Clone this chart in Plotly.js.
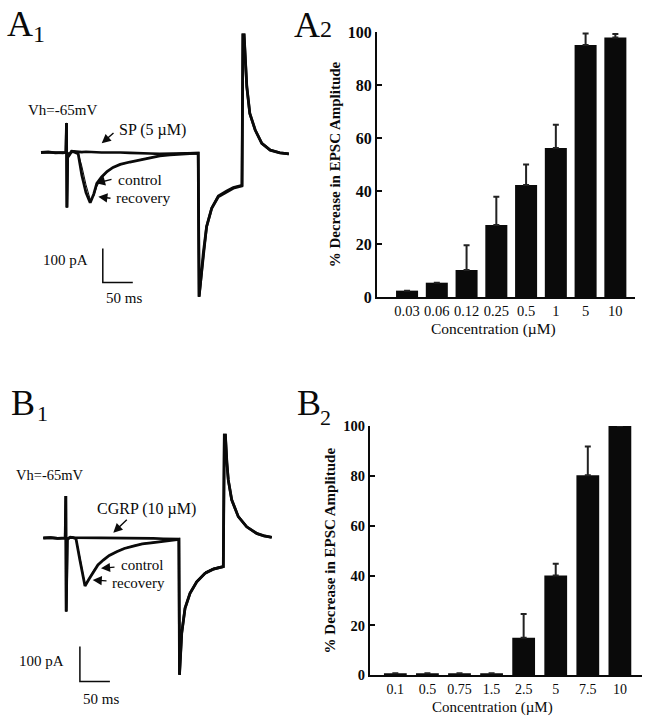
<!DOCTYPE html>
<html><head><meta charset="utf-8">
<script src="https://cdn.plot.ly/plotly-3.0.1.min.js"></script>
<style>html,body{margin:0;padding:0;background:#fff}#chart{width:646px;height:720px}</style>
</head><body><div id="chart"></div>
<script>
// ---------- A1: EPSC traces (time in ms, current in pA) ----------
const a1Time     = [0, 12, 24, 36, 41.5, 42.5, 43.2, 44.5, 47, 51, 56, 62, 68, 75, 82, 88, 93, 101, 110, 120, 132, 148, 165, 182, 198, 215, 232, 248, 262, 263.5, 266, 270.5, 276, 284.5, 295.5, 309.5, 320.5, 335, 336.5, 338.5, 340.5, 343, 348, 357, 368, 382, 398, 413];
const a1Recovery = [0, 2, -1, 1, 0, 87, -162, -2, -8, 3, 1, -4, -66, -118, -148, -122, -91, -72, -56, -44, -35, -28, -22, -15, -10, -7, -4, -3, -2, -424, -380, -296, -218, -164, -130, -115, -105, -98, 346, 346, 287, 194, 115, 66, 27, 7, -1, -4];
const a1Control  = [0, 2, -1, 1, 0, 87, -162, -2, -8, 3, 1, -2, -40, -95, -138, -128, -100, -76, -58, -45, -36, -28, -21, -15, -10, -6, -4, -3, -2, -424, -380, -296, -218, -164, -130, -115, -105, -98, 346, 346, 287, 194, 115, 66, 27, 7, -1, -4];
const a1SP       = [0, 1, 0, -1, 0, 87, -162, -2, -6, 4, 3, 2, 1, 2, 1, 0, 1, 0, 0, 1, 0, -1, -3, -3, -4, -3, -3, -2, -2, -424, -380, -296, -218, -164, -128, -113, -103, -96, 346, 346, 287, 194, 115, 66, 27, 7, -1, -4];
const a1ScaleT   = [103, 103, 153];
const a1ScaleI   = [-282, -382, -382];

// ---------- A2: SP dose response ----------
const a2Conc = ['0.03', '0.06', '0.12', '0.25', '0.5', '1', '5', '10'];
const a2Mean = [2.4, 5.4, 10.2, 27.2, 42.3, 56.2, 95.1, 97.9];
const a2Err  = [0, 0, 9.3, 10.6, 7.7, 8.8, 4.3, 1.3];

// ---------- B1: EPSC traces ----------
const b1Time     = [0, 12, 24, 36.5, 37.5, 38.2, 40, 45, 50, 54.5, 61, 65.5, 69.5, 76, 83.3, 91, 100, 110, 122.3, 135, 150, 165, 183.3, 200, 216.7, 226, 227, 229, 230.7, 236.2, 244.5, 255.7, 269.5, 283.3, 300, 301.7, 303.5, 306, 308.3, 314, 325, 339, 355.7, 368, 380.7];
const b1Recovery = [0, 1, -1, 0, 120, -210, -3, 2, 1, -2, -63, -105, -137, -118, -96, -77, -63, -50, -39, -30, -23, -17, -13, -9, -6, -4, -391, -325, -272, -201, -158, -125, -101, -89, -82, 294, 294, 215, 166, 109, 61, 32, 13, 6, 2];
const b1Control  = [0, 1, -1, 0, 120, -210, -3, 2, 1, -1, -55, -100, -133, -117, -94, -76, -62, -49, -38, -29, -22, -16, -12, -8, -5, -4, -391, -325, -272, -201, -158, -121, -97, -86, -79, 294, 294, 215, 166, 109, 61, 32, 13, 6, 2];
const b1CGRP     = [0, 1, -1, 0, 120, -210, -3, 2, 1, 1, 1, 0, 1, 0, 1, 0, 0, 1, 0, -1, 0, -1, -1, -2, -2, -3, -391, -325, -272, -201, -158, -125, -101, -89, -82, 294, 294, 215, 166, 109, 61, 32, 13, 6, 2];
const b1ScaleT   = [61, 61, 111];
const b1ScaleI   = [-310, -410, -410];

// ---------- B2: CGRP dose response ----------
const b2Conc = ['0.1', '0.5', '0.75', '1.5', '2.5', '5', '7.5', '10'];
const b2Mean = [0.8, 0.8, 0.8, 0.8, 15.1, 40, 80.2, 100];
const b2Err  = [0, 0, 0, 0, 9.5, 4.7, 11.6, 0];

// ---------- drawing ----------
const W = 646, H = 720;
const F = 'Liberation Serif, Times New Roman, serif';
const INK = '#0a0a0a';
const dx = p => p / W;
const dy = p => 1 - p / H;

function line(x, y, xa, ya, w) {
  return {type: 'scatter', mode: 'lines', x: x, y: y, xaxis: xa, yaxis: ya,
          line: {color: INK, width: w}, hoverinfo: 'skip', cliponaxis: false};
}
function bars(x, y, e, xa, ya, bw) {
  return {type: 'bar', x: x, y: y, xaxis: xa, yaxis: ya, width: bw,
          marker: {color: INK, line: {width: 0}},
          error_y: {type: 'data', symmetric: false, array: e, arrayminus: e.map(() => 0),
                    color: '#222', thickness: 2, width: 3},
          cliponaxis: false, hoverinfo: 'skip'};
}

const data = [
  line(a1Time, a1SP, 'x', 'y', 2.6),
  line(a1Time, a1Recovery, 'x', 'y', 2.8),
  line(a1Time, a1Control, 'x', 'y', 1),
  line(a1ScaleT, a1ScaleI, 'x', 'y', 1.5),
  bars(a2Conc, a2Mean, a2Err, 'x2', 'y2', 0.74),
  line(b1Time, b1CGRP, 'x3', 'y3', 2.6),
  line(b1Time, b1Recovery, 'x3', 'y3', 2.8),
  line(b1Time, b1Control, 'x3', 'y3', 1),
  line(b1ScaleT, b1ScaleI, 'x3', 'y3', 1.5),
  bars(b2Conc, b2Mean, b2Err, 'x4', 'y4', 0.71)
];

function hidden(domain, range, anchor) {
  return {domain: domain, range: range, visible: false, fixedrange: true, anchor: anchor};
}
function catAxis(domain, range, anchor, tsize) {
  return {type: 'category', domain: domain, range: range, anchor: anchor,
          showline: true, linecolor: INK, linewidth: 2, ticks: '', showgrid: false, zeroline: false,
          tickfont: {family: F, size: tsize, color: INK},
          fixedrange: true};
}
function valAxis(domain, anchor, tsize) {
  return {domain: domain, range: [0, 100], anchor: anchor, dtick: 20,
          showline: true, linecolor: INK, linewidth: 2, ticks: 'inside', ticklen: 5, tickwidth: 2,
          tickcolor: INK, showgrid: false, zeroline: false,
          tickfont: {family: F, size: tsize, color: INK, weight: 'bold'},
          title: {text: '% Decrease in EPSC Amplitude', font: {family: F, size: 15, color: INK, weight: 'bold'}, standoff: 4},
          fixedrange: true};
}

function txt(t, x, y, size, extra) {
  return Object.assign({text: t, x: dx(x), y: dy(y), xref: 'paper', yref: 'paper', showarrow: false,
    xanchor: 'center', yanchor: 'middle', font: {family: F, size: size, color: INK}}, extra || {});
}
function arrow(tx, ty, sx, sy) {
  return {text: '', x: dx(tx), y: dy(ty), xref: 'paper', yref: 'paper', showarrow: true,
    ax: sx - tx, ay: sy - ty, arrowhead: 2, arrowsize: 1.3, arrowwidth: 1.4, arrowcolor: INK,
    standoff: 0, startstandoff: 0};
}

const annotations = [
  // panel labels
  txt('A', 20, 24, 36), txt('1', 39, 34, 24),
  txt('A', 307, 25, 36), txt('2', 326, 29, 24),
  txt('B', 22.5, 402.5, 36), txt('1', 42.5, 413, 22),
  txt('B', 309, 402.5, 36), txt('2', 325, 417.5, 22),
  // x-axis titles of the bar charts
  txt('Concentration (µM)', 493.5, 328.5, 15.5),
  txt('Concentration (µM)', 492.5, 707, 15),
  // A1 labels
  txt('Vh=-65mV', 62, 110, 15),
  txt('SP (5 µM)', 152, 130, 16),
  arrow(101.7, 143.3, 115, 131.7),
  txt('control', 116, 179.5, 15.5, {xanchor: 'left'}),
  arrow(96, 183.3, 113, 179),
  txt('recovery', 114, 197.5, 15.5, {xanchor: 'left'}),
  arrow(98.3, 196.7, 112, 198.5),
  txt('100 pA', 65.3, 260, 15),
  txt('50 ms', 124, 298, 15),
  // B1 labels
  txt('Vh=-65mV', 50, 475, 14.5),
  txt('CGRP (10 µM)', 146.7, 509, 16),
  arrow(113.3, 532.7, 128.3, 518.3),
  txt('control', 119, 565, 15, {xanchor: 'left'}),
  arrow(101, 568.3, 116, 567),
  txt('recovery', 110, 582.5, 15, {xanchor: 'left'}),
  arrow(92.7, 580, 108, 581),
  txt('100 pA', 41, 661, 15),
  txt('50 ms', 101, 699, 15)
];

const layout = {
  width: W, height: H, margin: {l: 0, r: 0, t: 0, b: 0},
  paper_bgcolor: '#fff', plot_bgcolor: 'rgba(0,0,0,0)', showlegend: false,
  font: {family: F, color: INK},
  xaxis: hidden([0, 320 / W], [-68.33, 465], 'y'),
  yaxis: hidden([0.5, 1], [-610.3, 448.5], 'x'),
  xaxis2: catAxis([377 / W, 635 / W], [-1.01, 7.66], 'y2', 14.5),
  yaxis2: valAxis([1 - 297 / H, 1 - 32 / H], 'x2', 16),
  xaxis3: hidden([0, 320 / W], [-72.17, 461.17], 'y3'),
  yaxis3: hidden([0, 0.5], [-520, 508.57], 'x3'),
  xaxis4: catAxis([370 / W, 641.7 / W], [-0.79, 7.68], 'y4', 14),
  yaxis4: valAxis([1 - 675.3 / H, 1 - 426 / H], 'x4', 14.5),
  annotations: annotations
};

Plotly.newPlot('chart', data, layout, {staticPlot: true, displayModeBar: false});
</script></body></html>
